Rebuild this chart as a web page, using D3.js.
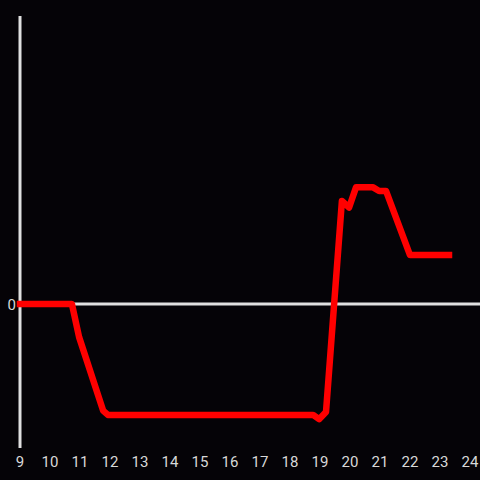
<!DOCTYPE html>
<html>
<head>
<meta charset="utf-8">
<script src="https://cdn.jsdelivr.net/npm/d3@7"></script>
<style>
  body { margin: 0; background: #050307; }
  svg { display: block; }
</style>
</head>
<body>
<svg id="chart" width="480" height="480"></svg>
<script>
// hours of day and the series
var hours = [9, 10.73, 10.97, 11.77, 11.93, 18.77, 18.97, 19.2, 19.73, 19.97, 20.2, 20.77, 20.97, 21.2, 22.0, 23.3]
var values = [0, 0, -0.23, -0.74, -0.77, -0.77, -0.8, -0.75, 0.715, 0.67, 0.81, 0.81, 0.785, 0.785, 0.34, 0.34]
var xTicks = [9, 10, 11, 12, 13, 14, 15, 16, 17, 18, 19, 20, 21, 22, 23, 24]
var yTicks = [0]

var svg = d3.select('#chart')
svg.append('rect').attr('width', 480).attr('height', 480).attr('fill', '#050307')

var x = d3.scaleLinear().domain([9, 24]).range([20, 470])
var y = d3.scaleLinear().domain([-1, 2]).range([448, 16])

// vertical axis line
svg.append('line')
    .attr('x1', x(9)).attr('x2', x(9))
    .attr('y1', y(2)).attr('y2', y(-1))
    .attr('stroke', '#e0e0e0').attr('stroke-width', 3)

// zero line
svg.append('line')
    .attr('x1', x(9)).attr('x2', 480)
    .attr('y1', y(0)).attr('y2', y(0))
    .attr('stroke', '#e0e0e0').attr('stroke-width', 3)

// x tick labels
svg.selectAll('text.xt')
    .data(xTicks)
    .enter()
    .append('text')
    .attr('class', 'xt')
    .attr('x', function(d) { return x(d) })
    .attr('y', 467)
    .attr('text-anchor', 'middle')
    .attr('fill', '#d8d8d8')
    .attr('font-family', 'Roboto, sans-serif')
    .attr('font-size', 15)
    .text(function(d) { return d })

// y tick labels
svg.selectAll('text.yt')
    .data(yTicks)
    .enter()
    .append('text')
    .attr('class', 'yt')
    .attr('x', 16)
    .attr('y', function(d) { return y(d) + 5.5 })
    .attr('text-anchor', 'end')
    .attr('fill', '#d8d8d8')
    .attr('font-family', 'Roboto, sans-serif')
    .attr('font-size', 15)
    .text(function(d) { return d })

var line = d3.line()
    .x(function(d, i) { return x(hours[i]) })
    .y(function(d) { return y(d) })

svg.append('path')
    .datum(values)
    .attr('d', line)
    .attr('fill', 'none')
    .attr('stroke', '#ff0000')
    .attr('stroke-width', 6.5)
    .attr('stroke-linejoin', 'round')
    .attr('stroke-linecap', 'square')
</script>
</body>
</html>
